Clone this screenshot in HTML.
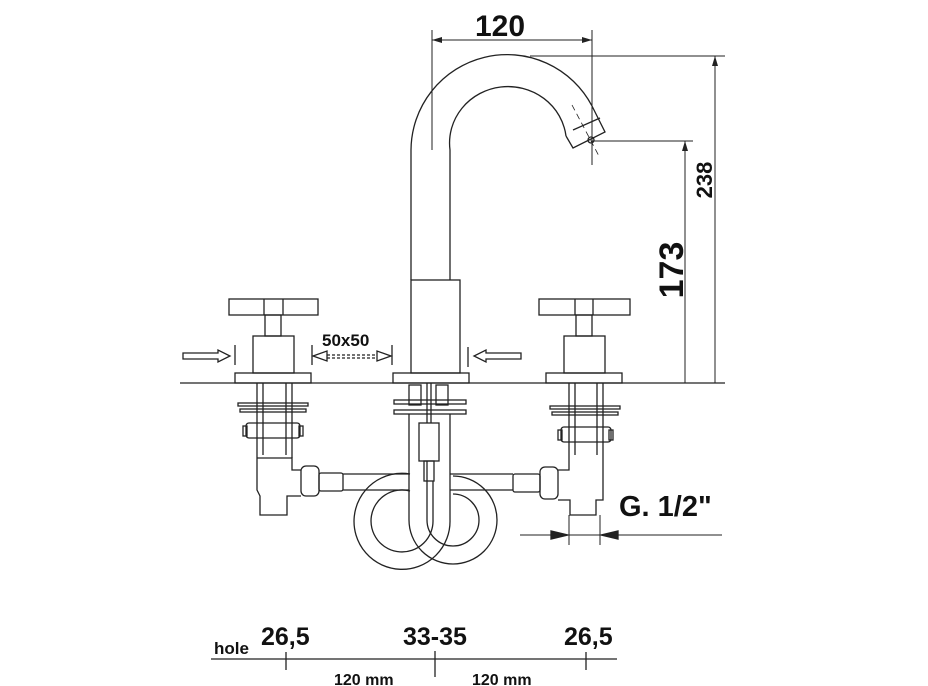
<!DOCTYPE html>
<html><head><style>
html,body{margin:0;padding:0;background:#fff}
svg{display:block}
text{font-family:"Liberation Sans",sans-serif;font-weight:bold;fill:#111}
</style></head><body>
<svg width="928" height="686" viewBox="0 0 928 686" xmlns="http://www.w3.org/2000/svg">
<defs>
<marker id="ah" viewBox="0 0 10 6" refX="10" refY="3" markerWidth="10" markerHeight="6" orient="auto-start-reverse" markerUnits="userSpaceOnUse"><path d="M0,0 L10,3 L0,6z" fill="#222"/></marker>
</defs>
<g fill="none" stroke="#222" stroke-width="1.3">
<!-- spout -->
<path d="M411,280 L411,150 A96,96 0 0 1 592,106"/>
<path d="M450,280 L450,150 A58,56 0 0 1 566,136"/>
<path d="M566,136 L573,148 L605,132 L592,106"/>
<path d="M573,130 L600,118"/>
<circle cx="591" cy="140" r="3"/>
<path d="M572,105 L600,158" stroke-dasharray="6,4" stroke-width="0.8"/>
<!-- body -->
<rect x="411" y="280" width="49" height="93"/>
<rect x="393" y="373" width="76" height="10"/>
<!-- counter -->
<line x1="180" y1="383" x2="725" y2="383"/>
<!-- dims top -->
<line x1="432" y1="30" x2="432" y2="150" stroke-width="1"/>
<line x1="592" y1="30" x2="592" y2="165" stroke-width="1"/>
<line x1="432" y1="40" x2="592" y2="40" stroke-width="1" marker-start="url(#ah)" marker-end="url(#ah)"/>
<line x1="530" y1="56" x2="725" y2="56" stroke-width="1"/>
<line x1="715" y1="383" x2="715" y2="56" stroke-width="1" marker-end="url(#ah)"/>
<line x1="592" y1="141" x2="693" y2="141" stroke-width="1"/>
<line x1="685" y1="383" x2="685" y2="141" stroke-width="1" marker-end="url(#ah)"/>
<!-- left valve -->
<rect x="229" y="299" width="89" height="16"/>
<line x1="264" y1="299" x2="264" y2="315"/><line x1="283" y1="299" x2="283" y2="315"/>
<rect x="265" y="315" width="16" height="21"/>
<rect x="253" y="336" width="41" height="37"/>
<rect x="235" y="373" width="76" height="10"/>
<!-- right valve -->
<rect x="539" y="299" width="91" height="16"/>
<line x1="575" y1="299" x2="575" y2="315"/><line x1="593" y1="299" x2="593" y2="315"/>
<rect x="576" y="315" width="16" height="21"/>
<rect x="564" y="336" width="41" height="37"/>
<rect x="546" y="373" width="76" height="10"/>
<!-- arrows width -->
<path d="M183,353 L218,353 L218,350 L230,356 L218,362 L218,359 L183,359z"/>
<line x1="235" y1="345" x2="235" y2="365"/>
<line x1="312" y1="345" x2="312" y2="365"/>
<line x1="392" y1="345" x2="392" y2="365"/>
<path d="M313,356 L327,351 L327,361z M391,356 L377,351 L377,361z" fill="#fff"/>
<line x1="327" y1="355" x2="377" y2="355" stroke-dasharray="3,2"/>
<line x1="327" y1="358" x2="377" y2="358" stroke-dasharray="3,2"/>
<line x1="468" y1="347" x2="468" y2="367"/>
<path d="M521,353 L486,353 L486,350 L474,356 L486,362 L486,359 L521,359z"/>
<!-- left under -->
<path d="M257,383 V458 M263,383 V455 M286,383 V455 M292,383 V458"/>
<rect x="238" y="403" width="70" height="3"/><rect x="240" y="409" width="66" height="3"/>
<rect x="246" y="423" width="54" height="15" rx="3"/>
<rect x="243" y="426" width="4" height="10"/><rect x="299" y="426" width="4" height="10"/>
<path d="M257,458 L257,490 L260,496 L260,515 L287,515 L287,496 L301,496 M257,458 L292,458 L292,470 L301,470"/>
<rect x="301" y="466" width="18" height="30" rx="5"/>
<rect x="319" y="473" width="24" height="18" rx="2"/>
<line x1="343" y1="474" x2="409" y2="474"/><line x1="343" y1="490" x2="409" y2="490"/>
<!-- right under -->
<path d="M569,383 V455 M575,383 V455 M597,383 V455 M603,383 V455"/>
<rect x="550" y="406" width="70" height="3"/><rect x="552" y="412" width="66" height="3"/>
<rect x="561" y="427" width="50" height="15" rx="3"/>
<rect x="558" y="430" width="4" height="10"/><rect x="609" y="430" width="4" height="10"/>
<path d="M569,455 L569,470 L558,470 M603,455 L603,500 L596,500 L596,515 L570,515 L570,500 L558,500"/>
<rect x="540" y="467" width="18" height="32" rx="5"/>
<rect x="513" y="474" width="27" height="18" rx="2"/>
<line x1="450" y1="474" x2="513" y2="474"/><line x1="450" y1="490" x2="513" y2="490"/>
<!-- center under -->
<rect x="409" y="385" width="12" height="20"/><rect x="436" y="385" width="12" height="20"/>
<rect x="394" y="400" width="72" height="4"/><rect x="394" y="410" width="72" height="4"/>
<rect x="419" y="423" width="20" height="38"/>
<rect x="424" y="461" width="10" height="20"/>
<line x1="427" y1="383" x2="427" y2="423"/><line x1="431" y1="383" x2="431" y2="423"/>
<!-- loops -->
<path d="M409,414 V520 M427,461 V520 M433,481 V520 M450,414 V520"/>
<path d="M409,520 A44,44 0 1 0 453,476" />
<path d="M427,520 A26,26 0 1 0 453,494" />
<path d="M450,520 A48,48 0 1 1 410,474" />
<path d="M433,520 A31,31 0 1 1 410,491" />
<!-- G 1/2 dim -->
<line x1="520" y1="535" x2="722" y2="535" stroke-width="1"/>
<line x1="569" y1="515" x2="569" y2="545" stroke-width="1"/>
<line x1="600" y1="515" x2="600" y2="545" stroke-width="1"/>
<path d="M568,535 L551,531 L551,539z M601,535 L618,531 L618,539z" fill="#222"/>
<!-- bottom scale -->
<line x1="211" y1="659" x2="617" y2="659"/>
<line x1="286" y1="652" x2="286" y2="670"/>
<line x1="435" y1="651" x2="435" y2="677"/>
<line x1="586" y1="652" x2="586" y2="670"/>
</g>
<text x="475" y="36" font-size="30">120</text>
<text x="712" y="180" font-size="22" transform="rotate(-90 712 180)" text-anchor="middle">238</text>
<text x="683" y="270" font-size="34" transform="rotate(-90 683 270)" text-anchor="middle">173</text>
<text x="322" y="346" font-size="17">50x50</text>
<text x="619" y="516" font-size="29">G. 1/2"</text>
<text x="214" y="654" font-size="17">hole</text>
<text x="261" y="645" font-size="25">26,5</text>
<text x="403" y="645" font-size="25">33-35</text>
<text x="564" y="645" font-size="25">26,5</text>
<text x="334" y="685" font-size="16">120 mm</text>
<text x="472" y="685" font-size="16">120 mm</text>
</svg>
</body></html>
